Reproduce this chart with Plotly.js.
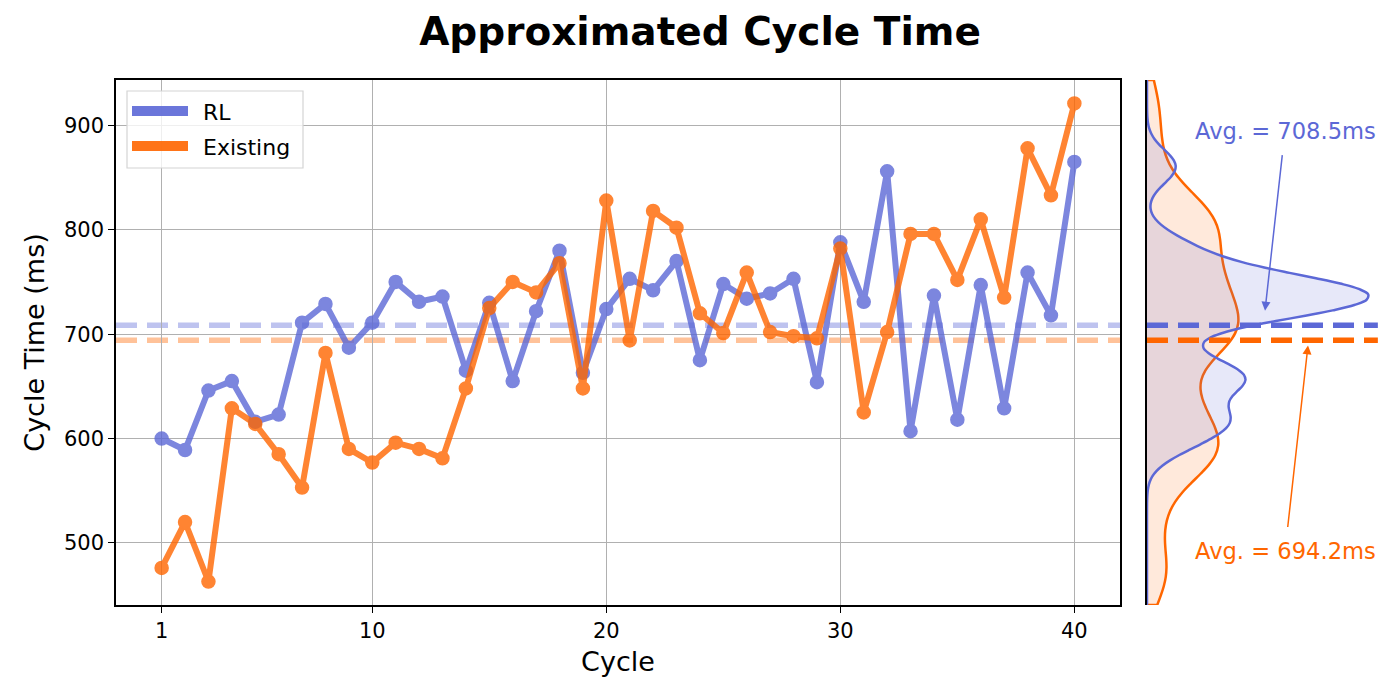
<!DOCTYPE html>
<html><head><meta charset="utf-8">
<script src="https://cdn.plot.ly/plotly-3.0.1.min.js"></script>
<style>html,body{margin:0;padding:0;background:#fff}#chart{width:1400px;height:700px}</style>
</head><body><div id="chart"></div>
<script>
const cycles = [1,2,3,4,5,6,7,8,9,10,11,12,13,14,15,16,17,18,19,20,21,22,23,24,25,26,27,28,29,30,31,32,33,34,35,36,37,38,39,40];
const rlTimes = [600,589,646,655,616,623,711,729,687,711,750,731,736,665,730,655,722,780,663,724,753,742,770,675,748,734,739,753,654,788,731,856,607,737,618,747,629,759,718,865];
const existingTimes = [476,520,463,629,614,585,553,682,590,577,596,590,581,648,725,750,740,768,648,828,694,818,802,720,701,759,702,698,696,782,625,702,796,796,752,810,735,878,833,921];
const seriesNames = ['RL', 'Existing'];
const avgRL = 708.5;
const avgExisting = 694.2;
const xTickVals = [1,10,20,30,40];
const yTickVals = [500,600,700,800,900];

const BLUE = '#5C68D6';
const ORANGE = '#FF6600';
const FONT = 'DejaVu Sans, sans-serif';
const yRange = [440.5, 943.5];

// pixel -> paper helpers (margins l=116, r=10, t=80, b=95)
const PW = 1400 - 116 - 10, PH = 700 - 80 - 95;
const px = v => (v - 116) / PW;
const py = v => 1 - (v - 80) / PH;

function mainTrace(y, name, color) {
  return {
    type: 'scatter', mode: 'lines+markers', x: cycles, y: y, name: name,
    xaxis: 'x', yaxis: 'y', opacity: 0.8, showlegend: false, hoverinfo: 'x+y',
    line: {color: color, width: 6},
    marker: {color: color, size: 13, line: {color: color, width: 1.5}}
  };
}
// each violin is normalised to its own peak; widths set the peak extent
function kdeTrace(y, name, color, fill, bw, w) {
  return {
    type: 'violin', y: y, x0: 0, name: name, xaxis: 'x2', yaxis: 'y2',
    side: 'positive', points: false, box: {visible: false}, meanline: {visible: false},
    line: {color: color, width: 2.5}, fillcolor: fill, bandwidth: bw,
    spanmode: 'manual', span: yRange, scalemode: 'width',
    width: w, showlegend: false, hoverinfo: 'skip'
  };
}

const data = [
  mainTrace(rlTimes, seriesNames[0], BLUE),
  mainTrace(existingTimes, seriesNames[1], ORANGE),
  kdeTrace(existingTimes, seriesNames[1], ORANGE, 'rgba(255,102,0,0.14)', 27, 0.75),
  kdeTrace(rlTimes, seriesNames[0], BLUE, 'rgba(92,104,214,0.15)', 15.5, 1.82)
];

const legendColors = [BLUE, ORANGE];
const legendRowsY = [111, 146];

const shapes = [
  {type: 'line', xref: 'x domain', x0: 0, x1: 1, yref: 'y', y0: avgRL, y1: avgRL, layer: 'below',
   line: {color: 'rgba(92,104,214,0.4)', width: 5.5, dash: '21px,10px'}},
  {type: 'line', xref: 'x domain', x0: 0, x1: 1, yref: 'y', y0: avgExisting, y1: avgExisting, layer: 'below',
   line: {color: 'rgba(255,102,0,0.4)', width: 5.5, dash: '21px,10px'}},
  {type: 'line', xref: 'x2 domain', x0: 0, x1: 0.95, yref: 'y2', y0: avgRL, y1: avgRL,
   line: {color: BLUE, width: 5.5, dash: '21px,10px'}},
  {type: 'line', xref: 'x2 domain', x0: 0, x1: 0.95, yref: 'y2', y0: avgExisting, y1: avgExisting,
   line: {color: ORANGE, width: 5.5, dash: '21px,10px'}},
  // legend box
  {type: 'rect', xref: 'paper', yref: 'paper', x0: px(127), x1: px(303), y0: py(91), y1: py(168),
   fillcolor: 'rgba(255,255,255,0.8)', line: {color: '#d4d4d4', width: 1.2}, layer: 'above'}
];
const annotations = [];
seriesNames.forEach((n, i) => {
  shapes.push({type: 'line', xref: 'paper', yref: 'paper', x0: px(132), x1: px(188),
    y0: py(legendRowsY[i]), y1: py(legendRowsY[i]), line: {color: legendColors[i], width: 10}, opacity: 0.9, layer: 'above'});
  annotations.push({text: n, xref: 'paper', yref: 'paper', x: px(201), y: py(legendRowsY[i] + 1),
    xanchor: 'left', yanchor: 'middle', showarrow: false, font: {size: 22, color: '#000'}});
});
annotations.push(
  {text: 'Avg. = ' + avgRL.toFixed(1) + 'ms', xref: 'paper', yref: 'y', x: px(1265), y: avgRL + 14,
   axref: 'pixel', ayref: 'pixel', ax: 20, ay: -180, showarrow: true,
   arrowhead: 2, arrowsize: 1.2, arrowwidth: 1.5, arrowcolor: BLUE, startstandoff: 10,
   font: {size: 22.6, color: BLUE}},
  {text: 'Avg. = ' + avgExisting.toFixed(1) + 'ms', xref: 'paper', yref: 'y', x: px(1308), y: avgExisting - 5,
   axref: 'pixel', ayref: 'pixel', ax: -23, ay: 206, showarrow: true,
   arrowhead: 2, arrowsize: 1.2, arrowwidth: 1.5, arrowcolor: ORANGE, startstandoff: 10,
   font: {size: 22.6, color: ORANGE}}
);

const layout = {
  width: 1400, height: 700,
  margin: {l: 116, r: 10, t: 80, b: 95},
  paper_bgcolor: '#fff', plot_bgcolor: 'rgba(0,0,0,0)',
  font: {family: FONT, color: '#000', size: 22},
  showlegend: false,
  title: {text: '<b>Approximated Cycle Time</b>', x: 0.5, xref: 'container', y: 0.955, yref: 'container', yanchor: 'middle', font: {family: FONT, size: 39, color: '#000'}},
  violinmode: 'overlay',
  xaxis: {
    domain: [0, px(1120)], range: [-0.95, 41.95], anchor: 'y',
    tickvals: xTickVals, ticktext: xTickVals.map(String),
    showline: true, mirror: true, linecolor: '#000', linewidth: 1.5,
    ticks: 'outside', ticklen: 6, tickwidth: 1.3, tickcolor: '#000',
    showgrid: true, gridcolor: '#b0b0b0', gridwidth: 1.2, zeroline: false,
    tickfont: {size: 21}, title: {text: 'Cycle', font: {size: 27}, standoff: 10}
  },
  yaxis: {
    domain: [0, 1], range: yRange, anchor: 'x',
    tickvals: yTickVals,
    showline: true, mirror: true, linecolor: '#000', linewidth: 1.5,
    ticks: 'outside', ticklen: 6, tickwidth: 1.3, tickcolor: '#000',
    showgrid: true, gridcolor: '#b0b0b0', gridwidth: 1.2, zeroline: false,
    tickfont: {size: 21}, title: {text: 'Cycle Time (ms)', font: {size: 27}, standoff: 12}
  },
  xaxis2: {domain: [px(1147), 1], range: [0, 1], anchor: 'y2', visible: false, fixedrange: true},
  yaxis2: {
    domain: [0, 1], anchor: 'x2', matches: 'y', range: yRange,
    showticklabels: false, ticks: '', showgrid: false, zeroline: false,
    showline: true, linecolor: '#000', linewidth: 1.5
  },
  shapes: shapes,
  annotations: annotations
};

Plotly.newPlot('chart', data, layout, {displayModeBar: false, responsive: false});
</script>
</body></html>
